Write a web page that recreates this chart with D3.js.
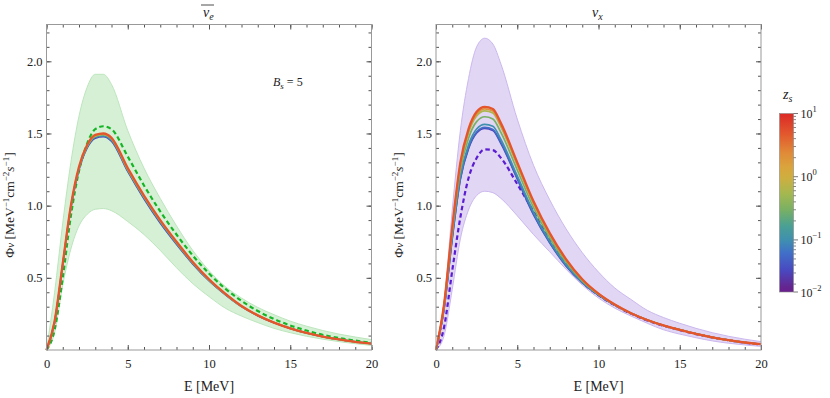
<!DOCTYPE html>
<html>
<head>
<meta charset="utf-8">
<script src="https://cdn.jsdelivr.net/npm/d3@7"></script>
<style>
body { margin: 0; background: #fff; }
svg, svg text { font-family: "Liberation Serif", "Times New Roman", Times, Tinos, "Noto Serif", "DejaVu Serif", serif !important; }
text { fill: #222; }
</style>
</head>
<body>
<svg width="830" height="398"></svg>
<script>
const energy = [0, 0.5, 1, 1.5, 2, 2.5, 3, 3.5, 4, 5, 6, 7, 8, 9, 10, 11, 12, 13, 14, 15, 16, 17, 18, 19, 20]

// anti nu_e panel
const nueBandHi = [0, 0.4, 0.88, 1.3, 1.62, 1.82, 1.91, 1.91, 1.84, 1.52, 1.26, 1.05, 0.86, 0.69, 0.55, 0.44, 0.36, 0.295, 0.245, 0.2, 0.165, 0.135, 0.11, 0.09, 0.072]
const nueBandLo = [0, 0.12, 0.45, 0.7, 0.86, 0.94, 0.975, 0.98, 0.965, 0.89, 0.8, 0.69, 0.57, 0.46, 0.37, 0.29, 0.235, 0.19, 0.15, 0.12, 0.095, 0.075, 0.058, 0.044, 0.032]
const nueDashed = [0, 0.14, 0.5, 0.93, 1.24, 1.43, 1.53, 1.55, 1.53, 1.34, 1.14, 0.96, 0.8, 0.655, 0.53, 0.425, 0.34, 0.27, 0.215, 0.17, 0.135, 0.105, 0.083, 0.065, 0.05]
const nueZ = [0.03, 0.1, 0.6, 5]
const nueSolid = [
  [0, 0.19, 0.585, 0.985, 1.25, 1.4, 1.468, 1.478, 1.447, 1.237, 1.048, 0.88, 0.733, 0.597, 0.48, 0.384, 0.301, 0.238, 0.189, 0.15, 0.118, 0.093, 0.073, 0.057, 0.044],
  [0, 0.193, 0.59, 0.99, 1.256, 1.405, 1.474, 1.484, 1.453, 1.243, 1.054, 0.886, 0.738, 0.6, 0.483, 0.386, 0.302, 0.239, 0.19, 0.15, 0.118, 0.093, 0.073, 0.057, 0.044],
  [0, 0.197, 0.595, 0.995, 1.263, 1.412, 1.482, 1.492, 1.462, 1.25, 1.062, 0.893, 0.744, 0.605, 0.486, 0.388, 0.303, 0.24, 0.19, 0.15, 0.118, 0.093, 0.073, 0.057, 0.044],
  [0, 0.2, 0.6, 1.0, 1.27, 1.42, 1.49, 1.5, 1.47, 1.26, 1.07, 0.9, 0.75, 0.61, 0.49, 0.39, 0.305, 0.24, 0.19, 0.15, 0.118, 0.093, 0.073, 0.057, 0.044]
]

// nu_x panel
const nuxBandHi = [0, 0.33, 0.97, 1.52, 1.88, 2.1, 2.16, 2.12, 1.98, 1.6, 1.28, 1.04, 0.84, 0.675, 0.54, 0.43, 0.35, 0.275, 0.225, 0.185, 0.15, 0.12, 0.095, 0.075, 0.058]
const nuxBandLo = [0, 0.1, 0.42, 0.77, 0.97, 1.07, 1.1, 1.09, 1.05, 0.93, 0.8, 0.68, 0.56, 0.45, 0.36, 0.29, 0.235, 0.185, 0.14, 0.11, 0.085, 0.063, 0.047, 0.035, 0.025]
const nuxDashed = [0, 0.16, 0.55, 0.92, 1.19, 1.33, 1.39, 1.385, 1.33, 1.15, 0.96, 0.77, 0.6, 0.47, 0.38, 0.31, 0.252, 0.205, 0.168, 0.138, 0.11, 0.087, 0.067, 0.051, 0.039]
const nuxZ = [0.03, 0.06, 0.1, 0.3, 0.6, 2, 5]
const nuxSolid = [
  [0, 0.289, 0.774, 1.184, 1.394, 1.503, 1.535, 1.521, 1.43, 1.185, 0.938, 0.742, 0.583, 0.466, 0.38, 0.312, 0.255, 0.208, 0.17, 0.14, 0.112, 0.088, 0.068, 0.052, 0.04],
  [0, 0.291, 0.778, 1.19, 1.4, 1.51, 1.542, 1.528, 1.437, 1.19, 0.943, 0.745, 0.586, 0.468, 0.381, 0.312, 0.255, 0.208, 0.17, 0.14, 0.112, 0.088, 0.068, 0.052, 0.04],
  [0, 0.295, 0.789, 1.206, 1.42, 1.531, 1.563, 1.55, 1.457, 1.206, 0.956, 0.754, 0.592, 0.471, 0.382, 0.312, 0.255, 0.208, 0.17, 0.14, 0.112, 0.088, 0.068, 0.052, 0.04],
  [0, 0.305, 0.815, 1.247, 1.467, 1.582, 1.616, 1.601, 1.506, 1.247, 0.988, 0.778, 0.609, 0.479, 0.385, 0.313, 0.255, 0.208, 0.17, 0.14, 0.112, 0.088, 0.068, 0.052, 0.04],
  [0, 0.313, 0.835, 1.278, 1.504, 1.622, 1.657, 1.642, 1.544, 1.279, 1.013, 0.797, 0.622, 0.486, 0.388, 0.314, 0.255, 0.208, 0.17, 0.14, 0.112, 0.088, 0.068, 0.052, 0.04],
  [0, 0.317, 0.842, 1.288, 1.516, 1.635, 1.67, 1.655, 1.556, 1.288, 1.02, 0.803, 0.626, 0.488, 0.389, 0.315, 0.255, 0.208, 0.17, 0.14, 0.112, 0.088, 0.068, 0.052, 0.04],
  [0, 0.32, 0.85, 1.3, 1.53, 1.65, 1.685, 1.67, 1.57, 1.3, 1.03, 0.81, 0.63, 0.49, 0.39, 0.315, 0.255, 0.208, 0.17, 0.14, 0.112, 0.088, 0.068, 0.052, 0.04]
]

// tick values
const xMajor = [0, 5, 10, 15, 20]
const yMajor = [0.5, 1.0, 1.5, 2.0]
const barMajor = [10, 1, 0.1]

const serif = '"Liberation Serif", "Times New Roman", Times, Tinos, "Noto Serif", "DejaVu Serif", serif'
const svg = d3.select("svg").attr("font-family", serif)

const y = d3.scaleLinear().domain([0, 2.255]).range([350, 24.5])

// colour bar z_s (log)
const zScale = d3.scaleLog().domain([0.015, 10]).range([292, 113.5])
const rampStops = [0, 0.03, 0.12, 0.22, 0.29, 0.37, 0.46, 0.55, 0.64, 0.7, 0.78, 0.88, 1]
const rampColors = ["#6a1e8e", "#642690", "#4a48c0", "#4070c8", "#3f8fb0", "#4aa094", "#78b064", "#a4b850", "#cfae40", "#daa43c", "#e08a38", "#e25a2e", "#dc2a26"]
const ramp = d3.scaleLinear().domain(rampStops).range(rampColors).clamp(true)
const zColor = z => ramp((292 - zScale(z)) / (292 - 113.5))

function drawPanel(x0, x1, bandHi, bandLo, dashed, solids, zs, style) {
  const x = d3.scaleLinear().domain([0, 20]).range([x0, x1])
  const g = svg.append("g")

  const pts = (arr) => energy.map((e, i) => [e, arr[i]])
  const line = d3.line().x(d => x(d[0])).y(d => y(d[1])).curve(d3.curveMonotoneX)
  const area = d3.area()
    .x((d, i) => x(energy[i]))
    .y0(d => y(d[0]))
    .y1(d => y(d[1]))
    .curve(d3.curveMonotoneX)

  g.append("path")
    .datum(bandLo.map((v, i) => [v, bandHi[i]]))
    .attr("d", area)
    .attr("fill", style.fill)

  ;[bandHi, bandLo].forEach(arr => {
    g.append("path").datum(pts(arr)).attr("d", line)
      .attr("fill", "none").attr("stroke", style.edge).attr("stroke-width", 1)
  })

  g.append("path").datum(pts(dashed)).attr("d", line)
    .attr("fill", "none").attr("stroke", style.dash)
    .attr("stroke-width", 2.2).attr("stroke-dasharray", "4.5,3")

  solids.forEach((arr, i) => {
    const top = i === solids.length - 1
    g.append("path").datum(pts(arr)).attr("d", line)
      .attr("fill", "none")
      .attr("stroke", top ? "#e4552c" : zColor(zs[i]))
      .attr("stroke-width", top ? 2.3 : 1.7)
  })

  // frame and ticks
  const axes = g.append("g").attr("class", "axes")
  const minorX = d3.range(0, 21)
  const minorY = d3.range(1, 23).map(v => v / 10)

  const addAxis = (axis, tr) => {
    const a = axes.append("g").attr("transform", tr).call(axis)
    a.attr("font-family", serif)
    a.select(".domain").remove()
    a.selectAll("line").attr("stroke", "#555")
    a.selectAll("text").attr("font-size", 12.5).attr("fill", "#222")
    return a
  }
  addAxis(d3.axisBottom(x).tickValues(minorX).tickSize(-3).tickFormat(""), "translate(0,350)")
  addAxis(d3.axisBottom(x).tickValues(xMajor).tickSize(-5).tickPadding(9).tickFormat(d3.format("d")), "translate(0,350)")
  addAxis(d3.axisTop(x).tickValues(minorX).tickSize(-3).tickFormat(""), "translate(0,24.5)")
  addAxis(d3.axisTop(x).tickValues(xMajor).tickSize(-5).tickFormat(""), "translate(0,24.5)")
  addAxis(d3.axisLeft(y).tickValues(minorY).tickSize(-3).tickFormat(""), `translate(${x0},0)`)
  addAxis(d3.axisLeft(y).tickValues(yMajor).tickSize(-5).tickPadding(4).tickFormat(d3.format(".1f")), `translate(${x0},0)`)
  addAxis(d3.axisRight(y).tickValues(minorY).tickSize(-3).tickFormat(""), `translate(${x1},0)`)
  addAxis(d3.axisRight(y).tickValues(yMajor).tickSize(-5).tickFormat(""), `translate(${x1},0)`)

  axes.append("rect")
    .attr("x", x0).attr("y", 24.5)
    .attr("width", x1 - x0).attr("height", 350 - 24.5)
    .attr("fill", "none").attr("stroke", "#999").attr("stroke-width", 1)

  // x label
  g.append("text")
    .attr("x", (x0 + x1) / 2).attr("y", 391)
    .attr("text-anchor", "middle").attr("font-size", 14)
    .text("E [MeV]")

  // y label
  const yl = g.append("text")
    .attr("transform", `translate(${x0 - 33},205) rotate(-90)`)
    .attr("text-anchor", "middle").attr("font-size", 13.5)
  yl.append("tspan").text("Φ")
  yl.append("tspan").attr("font-style", "italic").attr("font-size", 11).text("ν")
  yl.append("tspan").text(" [MeV")
  yl.append("tspan").attr("font-size", 9).attr("dy", -5).text("−1")
  yl.append("tspan").attr("dy", 5).text("cm")
  yl.append("tspan").attr("font-size", 9).attr("dy", -5).text("−2")
  yl.append("tspan").attr("dy", 5).attr("font-style", "italic").text("s")
  yl.append("tspan").attr("font-size", 9).attr("dy", -5).text("−1")
  yl.append("tspan").attr("dy", 5).text("]")

  return { g, x }
}

const left = drawPanel(46.5, 371.5, nueBandHi, nueBandLo, nueDashed, nueSolid, nueZ,
  { fill: "#d6f0d6", edge: "#bce6bc", dash: "#16b526" })
const right = drawPanel(436, 761, nuxBandHi, nuxBandLo, nuxDashed, nuxSolid, nuxZ,
  { fill: "#e2d6f5", edge: "#cbb8ee", dash: "#5a1ed2" })

// titles
const t1 = svg.append("text").attr("x", 203).attr("y", 17).attr("font-size", 14)
t1.append("tspan").attr("font-style", "italic").text("ν")
t1.append("tspan").attr("font-style", "italic").attr("font-size", 10).attr("dy", 3).text("e")
svg.append("line").attr("x1", 201).attr("x2", 214).attr("y1", 5).attr("y2", 5)
  .attr("stroke", "#222").attr("stroke-width", 0.8)

const t2 = svg.append("text").attr("x", 592).attr("y", 17).attr("font-size", 14)
t2.append("tspan").attr("font-style", "italic").text("ν")
t2.append("tspan").attr("font-style", "italic").attr("font-size", 10).attr("dy", 3).text("x")

// annotation
const ann = svg.append("text").attr("x", 273).attr("y", 86).attr("font-size", 12)
ann.append("tspan").attr("font-style", "italic").text("B")
ann.append("tspan").attr("font-style", "italic").attr("font-size", 9).attr("dy", 3).text("s")
ann.append("tspan").attr("dy", -3).text(" = 5")

// colour bar
const defs = svg.append("defs")
const grad = defs.append("linearGradient").attr("id", "zbar")
  .attr("x1", 0).attr("x2", 0).attr("y1", 1).attr("y2", 0)
rampStops.forEach((s, i) => {
  grad.append("stop").attr("offset", s).attr("stop-color", rampColors[i])
})
const barX = 779.5, barW = 14
svg.append("rect")
  .attr("x", barX).attr("y", zScale.range()[1])
  .attr("width", barW).attr("height", zScale.range()[0] - zScale.range()[1])
  .attr("fill", "url(#zbar)").attr("stroke", "#888").attr("stroke-width", 0.6)

const minorZ = []
;[0.01, 0.1, 1].forEach(d => { for (let k = 2; k <= 9; k++) minorZ.push(d * k) })
svg.selectAll("line.zminor")
  .data(minorZ.filter(v => v >= 0.015 && v <= 10))
  .enter().append("line").attr("class", "zminor")
  .attr("x1", barX + barW).attr("x2", barX + barW + 2.5)
  .attr("y1", d => zScale(d)).attr("y2", d => zScale(d))
  .attr("stroke", "#555").attr("stroke-width", 0.7)

const majorPos = barMajor.map(v => ({ y: zScale(v), p: Math.round(Math.log10(v)) }))
majorPos.push({ y: zScale.range()[0], p: -2 })
majorPos.forEach(m => {
  svg.append("line").attr("x1", barX + barW).attr("x2", barX + barW + 4.5)
    .attr("y1", m.y).attr("y2", m.y).attr("stroke", "#555").attr("stroke-width", 0.8)
  const t = svg.append("text").attr("x", barX + barW + 7).attr("y", m.y + 4.5).attr("font-size", 12)
  t.append("tspan").text("10")
  t.append("tspan").attr("font-size", 8.5).attr("dy", -6).text(m.p < 0 ? "−" + (-m.p) : m.p)
})

const zl = svg.append("text").attr("x", 783).attr("y", 99).attr("font-size", 14)
zl.append("tspan").attr("font-style", "italic").text("z")
zl.append("tspan").attr("font-style", "italic").attr("font-size", 10).attr("dy", 3).text("s")
</script>
</body>
</html>
